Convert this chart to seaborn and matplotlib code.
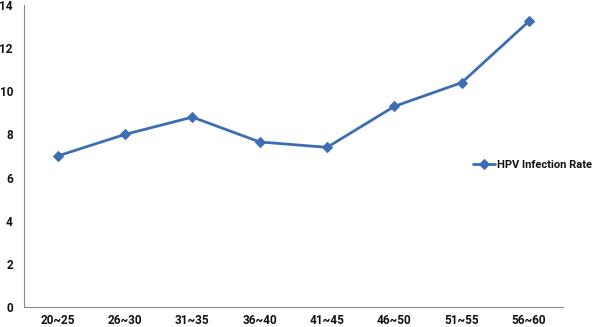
import matplotlib
matplotlib.use("Agg")
import pandas as pd
import seaborn as sns
import matplotlib.pyplot as plt
from matplotlib.ticker import FixedLocator

age_groups = ["20~25", "26~30", "31~35", "36~40", "41~45", "46~50", "51~55", "56~60"]
infection_rate = [7.0, 8.0, 8.8, 7.65, 7.4, 9.3, 10.4, 13.25]

df = pd.DataFrame({"age": age_groups, "rate": infection_rate})

sns.set_style("white")
plt.rcParams['font.family'] = ['Roboto', 'DejaVu Sans']

fig = plt.figure(figsize=(6, 3.27), dpi=100)
ax = fig.add_axes([0.04, 0.061, 0.898, 0.924])

sns.lineplot(data=df, x="age", y="rate", ax=ax, color="#3D6EB4",
             marker="D", markersize=5.5, linewidth=2,
             markeredgecolor="#3D6EB4", label="HPV Infection Rate")

ax.set_xlim(-0.5, len(age_groups) - 0.5)
ax.set_ylim(0, 14)
ax.set_yticks(range(0, 15, 2))
ax.set_xlabel("")
ax.set_ylabel("")

ax.xaxis.set_minor_locator(FixedLocator([i - 0.5 for i in range(len(age_groups) + 1)]))
ax.tick_params(axis="x", which="major", length=0, pad=5)
ax.tick_params(axis="x", which="minor", length=4, color="#888888", width=0.8, direction="in")
ax.tick_params(axis="y", length=4, color="#888888", width=0.8, direction="out", pad=4)
for lab in ax.get_xticklabels() + ax.get_yticklabels():
    lab.set_fontweight("bold")
    lab.set_fontsize(8.5)
    lab.set_color("#111111")

for spine_name in ['top', 'right']:
    ax.spines[spine_name].set_visible(False)
for spine_name in ['left', 'bottom']:
    ax.spines[spine_name].set_linewidth(0.8)
    ax.spines[spine_name].set_color('#888888')

ax.get_legend().remove()
handles, labels = ax.get_legend_handles_labels()
leg = fig.legend(handles, labels, loc="center left", bbox_to_anchor=(0.775, 0.495),
                 frameon=False, handlelength=2.0, handletextpad=0.2,
                 borderpad=0.2, prop={"weight": "bold", "size": 8})
for t in leg.get_texts():
    t.set_color("#111111")

fig.savefig("out.png", dpi=100)
